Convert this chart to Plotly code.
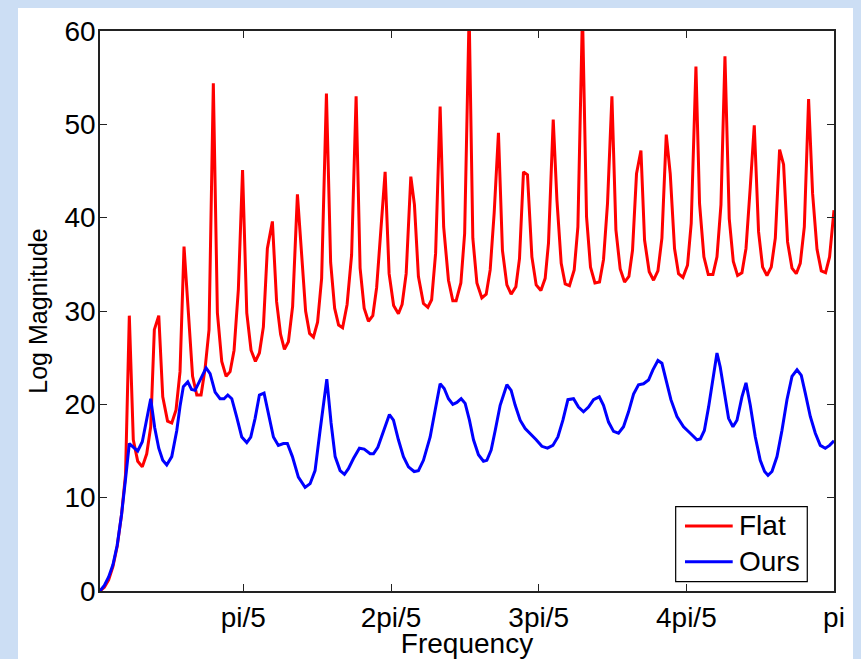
import numpy as np
import plotly.graph_objects as go

# Frequency positions are given as fractions of pi (normalized frequency)
flat_freq = [
    0.0058, 0.0117, 0.0175, 0.0233, 0.0291, 0.0350, 0.0404, 0.0455, 0.0509, 0.0569,
    0.0631, 0.0691, 0.0745, 0.0794, 0.0854, 0.0908, 0.0973, 0.1030, 0.1088, 0.1142,
    0.1196, 0.1260, 0.1312, 0.1369, 0.1427, 0.1481, 0.1535, 0.1593, 0.1648, 0.1707,
    0.1766, 0.1820, 0.1874, 0.1932, 0.1989, 0.2046, 0.2104, 0.2163, 0.2217, 0.2271,
    0.2325, 0.2393, 0.2450, 0.2504, 0.2556, 0.2610, 0.2667, 0.2732, 0.2789, 0.2843,
    0.2897, 0.2949, 0.3005, 0.3060, 0.3125, 0.3182, 0.3236, 0.3290, 0.3344, 0.3405,
    0.3466, 0.3527, 0.3581, 0.3636, 0.3694, 0.3753, 0.3805, 0.3859, 0.3920, 0.3974,
    0.4035, 0.4100, 0.4150, 0.4205, 0.4268, 0.4317, 0.4371, 0.4439, 0.4499, 0.4550,
    0.4604, 0.4665, 0.4713, 0.4778, 0.4837, 0.4882, 0.4946, 0.4997, 0.5058, 0.5108,
    0.5163, 0.5230, 0.5289, 0.5343, 0.5397, 0.5455, 0.5509, 0.5569, 0.5627, 0.5691,
    0.5740, 0.5794, 0.5848, 0.5908, 0.5966, 0.6030, 0.6088, 0.6133, 0.6197, 0.6247,
    0.6305, 0.6359, 0.6417, 0.6481, 0.6531, 0.6593, 0.6648, 0.6702, 0.6762, 0.6824,
    0.6878, 0.6932, 0.6992, 0.7046, 0.7104, 0.7163, 0.7222, 0.7271, 0.7325, 0.7385,
    0.7434, 0.7497, 0.7556, 0.7615, 0.7669, 0.7728, 0.7782, 0.7840, 0.7894, 0.7954,
    0.8016, 0.8066, 0.8130, 0.8179, 0.8238, 0.8297, 0.8360, 0.8415, 0.8469, 0.8523,
    0.8581, 0.8636, 0.8694, 0.8753, 0.8808, 0.8866, 0.8920, 0.8978, 0.9033, 0.9092,
    0.9150, 0.9205, 0.9263, 0.9317, 0.9371, 0.9431, 0.9489, 0.9543, 0.9598, 0.9656,
    0.9710, 0.9770, 0.9828, 0.9886, 0.9940, 1.0000,
]
flat_mag = [
    0.0, 0.4, 1.2, 2.6, 4.8, 8.2, 12.5, 29.5, 16.2, 13.9,
    13.3, 14.7, 17.6, 28.0, 29.5, 20.8, 18.2, 18.0, 19.4, 23.5,
    36.9, 29.8, 23.0, 21.0, 21.0, 23.8, 28.0, 54.4, 29.8, 24.6,
    23.0, 23.5, 25.8, 32.3, 45.1, 29.8, 25.8, 24.6, 25.5, 28.3,
    36.7, 39.6, 31.0, 27.5, 25.9, 26.7, 30.5, 42.5, 36.0, 30.0,
    27.6, 27.2, 28.8, 33.5, 53.3, 35.2, 30.3, 28.5, 28.2, 30.7,
    36.0, 53.0, 34.6, 30.3, 28.9, 29.5, 32.5, 38.0, 44.9, 34.0,
    30.6, 29.7, 30.7, 34.0, 44.4, 41.4, 33.7, 30.8, 30.4, 31.2,
    36.2, 51.9, 39.0, 33.3, 31.1, 31.1, 33.0, 38.3, 62.0, 37.8,
    33.0, 31.4, 31.8, 34.4, 40.5, 49.1, 36.5, 32.8, 31.8, 32.6,
    35.6, 44.9, 44.6, 35.8, 32.8, 32.2, 33.5, 37.3, 50.5, 41.9,
    35.1, 32.9, 32.7, 34.4, 39.0, 62.0, 40.1, 34.7, 33.0, 33.1,
    35.5, 41.5, 53.0, 38.7, 34.5, 33.1, 33.7, 36.5, 44.7, 47.2,
    37.6, 34.2, 33.3, 34.3, 37.8, 48.9, 44.7, 36.7, 34.0, 33.6,
    34.9, 39.4, 56.2, 41.5, 35.8, 33.9, 33.9, 35.8, 41.4, 57.3,
    39.9, 35.3, 33.8, 34.1, 36.7, 43.3, 49.9, 38.5, 34.7, 33.8,
    34.7, 37.8, 47.3, 45.7, 37.4, 34.6, 34.0, 35.1, 39.0, 52.7,
    42.6, 36.6, 34.3, 34.1, 35.8, 40.8,
]

ours_freq = [
    0.0058, 0.0117, 0.0175, 0.0233, 0.0291, 0.0350, 0.0404, 0.0455, 0.0512, 0.0569,
    0.0631, 0.0688, 0.0745, 0.0799, 0.0854, 0.0908, 0.0962, 0.1030, 0.1098, 0.1142,
    0.1187, 0.1247, 0.1298, 0.1346, 0.1413, 0.1495, 0.1549, 0.1617, 0.1684, 0.1738,
    0.1789, 0.1843, 0.1911, 0.1978, 0.2046, 0.2100, 0.2159, 0.2217, 0.2280, 0.2339,
    0.2407, 0.2474, 0.2542, 0.2596, 0.2664, 0.2745, 0.2836, 0.2904, 0.2971, 0.3039,
    0.3130, 0.3188, 0.3243, 0.3310, 0.3369, 0.3423, 0.3491, 0.3572, 0.3636, 0.3717,
    0.3762, 0.3821, 0.3897, 0.3978, 0.4033, 0.4100, 0.4168, 0.4236, 0.4313, 0.4371,
    0.4439, 0.4530, 0.4598, 0.4665, 0.4720, 0.4778, 0.4837, 0.4892, 0.4950, 0.5004,
    0.5062, 0.5117, 0.5184, 0.5252, 0.5298, 0.5356, 0.5411, 0.5478, 0.5569, 0.5627,
    0.5682, 0.5749, 0.5817, 0.5885, 0.5966, 0.6043, 0.6119, 0.6192, 0.6260, 0.6328,
    0.6396, 0.6472, 0.6539, 0.6607, 0.6675, 0.6743, 0.6821, 0.6878, 0.6946, 0.7014,
    0.7081, 0.7149, 0.7217, 0.7285, 0.7352, 0.7420, 0.7488, 0.7547, 0.7615, 0.7669,
    0.7737, 0.7791, 0.7873, 0.7962, 0.8053, 0.8144, 0.8190, 0.8244, 0.8301, 0.8369,
    0.8415, 0.8459, 0.8504, 0.8572, 0.8631, 0.8686, 0.8753, 0.8808, 0.8866, 0.8934,
    0.9001, 0.9060, 0.9106, 0.9160, 0.9228, 0.9295, 0.9363, 0.9431, 0.9499, 0.9557,
    0.9611, 0.9679, 0.9747, 0.9814, 0.9882, 0.9940, 1.0000,
]
ours_mag = [
    0.0, 0.6, 1.5, 2.8, 4.9, 8.2, 12.0, 15.8, 15.4, 15.0,
    16.0, 18.3, 20.6, 17.5, 15.3, 14.0, 13.5, 14.4, 17.2, 19.8,
    21.9, 22.4, 21.6, 21.5, 22.6, 23.9, 23.3, 21.3, 20.6, 20.6,
    21.0, 20.6, 18.6, 16.5, 15.9, 16.5, 18.5, 21.0, 21.2, 18.9,
    16.5, 15.6, 15.8, 15.8, 14.4, 12.2, 11.1, 11.5, 12.9, 17.2,
    22.7, 18.0, 14.4, 12.9, 12.5, 13.1, 14.2, 15.3, 15.2, 14.7,
    14.7, 15.4, 17.2, 18.9, 18.3, 16.2, 14.4, 13.3, 12.8, 12.9,
    14.0, 16.5, 19.4, 22.2, 21.7, 20.6, 20.0, 20.2, 20.6, 20.1,
    18.3, 16.2, 14.6, 13.9, 14.0, 15.1, 17.2, 19.9, 22.1, 21.5,
    19.9, 18.3, 17.4, 16.9, 16.2, 15.5, 15.3, 15.6, 16.5, 18.3,
    20.5, 20.6, 19.7, 19.2, 19.7, 20.5, 20.8, 19.9, 18.1, 17.1,
    16.9, 17.6, 19.2, 21.1, 22.1, 22.2, 22.6, 23.7, 24.7, 24.4,
    22.1, 20.5, 18.7, 17.6, 16.9, 16.2, 16.3, 17.2, 19.7, 23.0,
    25.5, 24.0, 21.9, 18.5, 17.6, 18.3, 20.8, 22.3, 19.9, 16.5,
    14.0, 12.8, 12.4, 12.8, 14.4, 17.2, 20.5, 23.0, 23.7, 23.1,
    21.2, 18.7, 16.9, 15.6, 15.3, 15.6, 16.1,
]

tick_fracs = [0.2, 0.4, 0.6, 0.8, 1.0]
tick_labels = ["pi/5", "2pi/5", "3pi/5", "4pi/5", "pi"]

series_names = ["Flat", "Ours"]
series_colors = ["#ff0000", "#0000ff"]

FONT = "Liberation Sans, Arial, Helvetica, sans-serif"

fig = go.Figure()
for name, color, fr, mag in zip(series_names, series_colors,
                                [flat_freq, ours_freq], [flat_mag, ours_mag]):
    fig.add_trace(go.Scatter(
        x=np.pi * np.array(fr), y=mag, mode="lines", name=name,
        line=dict(color=color, width=3), showlegend=False,
    ))

# White figure panel on a light-blue window background
fig.add_shape(
    type="rect", xref="paper", yref="paper",
    x0=-0.1117, x1=1.0259, y0=-0.13, y1=1.0411,
    fillcolor="white", line=dict(width=0), layer="below",
)

# Boxed legend in the lower-right corner of the axes
fig.add_shape(
    type="rect", xref="paper", yref="paper",
    x0=0.7843, x1=0.9636, y0=0.0166, y1=0.1505,
    fillcolor="white", line=dict(color="black", width=1.2), layer="above",
)
legend_rows_y = [0.1161, 0.0523]
for name, color, ly in zip(series_names, series_colors, legend_rows_y):
    fig.add_shape(
        type="line", xref="paper", yref="paper",
        x0=0.7970, x1=0.8620, y0=ly, y1=ly,
        line=dict(color=color, width=3), layer="above",
    )
    fig.add_annotation(
        xref="paper", yref="paper", x=0.8685, y=ly,
        xanchor="left", yanchor="middle", showarrow=False,
        text=name, font=dict(family=FONT, size=28, color="black"),
    )

fig.update_layout(
    width=861, height=659,
    margin=dict(l=100, r=27, t=31, b=68),
    paper_bgcolor="#ccdef4",
    plot_bgcolor="white",
    font=dict(family=FONT, size=28, color="black"),
    showlegend=False,
)
fig.update_xaxes(
    range=[np.pi * flat_freq[0], np.pi],
    tickmode="array",
    tickvals=[np.pi * f for f in tick_fracs],
    ticktext=tick_labels,
    ticks="inside", ticklen=7, tickcolor="#222222", tickwidth=1,
    showline=True, linecolor="#222222", linewidth=1.5, mirror="ticks",
    showgrid=False, zeroline=False,
    tickfont=dict(size=28),
    ticklabelstandoff=1,
    title=dict(text="Frequency", font=dict(size=28), standoff=4),
    automargin=False,
)
fig.update_yaxes(
    range=[0, 60],
    tickmode="array",
    tickvals=[0, 10, 20, 30, 40, 50, 60],
    ticks="inside", ticklen=7, tickcolor="#222222", tickwidth=1,
    showline=True, linecolor="#222222", linewidth=1.5, mirror="ticks",
    showgrid=False, zeroline=False,
    tickfont=dict(size=28),
    ticklabelstandoff=-3,
    title=dict(text="Log Magnitude", font=dict(size=25), standoff=10),
    automargin=False,
)

fig.write_html("out.html")
